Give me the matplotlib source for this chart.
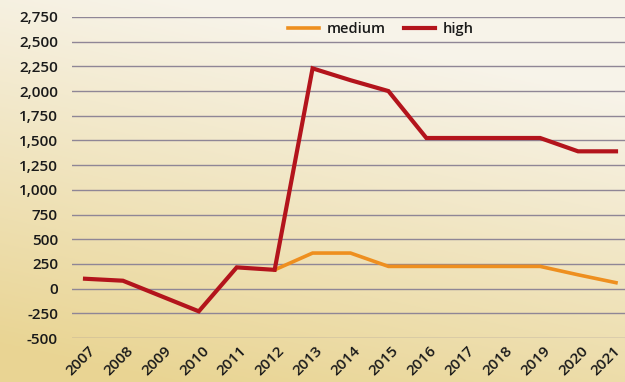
import matplotlib
matplotlib.use("Agg")
import matplotlib.pyplot as plt
import numpy as np
from matplotlib.lines import Line2D

years = [2007, 2008, 2009, 2010, 2011, 2012, 2013, 2014, 2015, 2016, 2017, 2018, 2019, 2020, 2021]
high = [100, 80, -75, -230, 215, 190, 2230, 2110, 2000, 1525, 1525, 1525, 1525, 1390, 1390]
medium_years = [2012, 2013, 2014, 2015, 2016, 2017, 2018, 2019, 2020, 2021]
medium = [190, 360, 360, 225, 225, 225, 225, 225, 140, 60]
yticks = [-500, -250, 0, 250, 500, 750, 1000, 1250, 1500, 1750, 2000, 2250, 2500, 2750]

plt.rcParams['font.family'] = ['Open Sans', 'DejaVu Sans']

fig = plt.figure(figsize=(6.25, 3.82), dpi=100)

# background gradient
bg = fig.add_axes([0, 0, 1, 1], zorder=-10)
bg.axis('off')
yy, xx = np.mgrid[0:1:200j, 0:1:300j]
t = np.clip((1 - xx) * 0.35 + (1 - yy) * 1.0 - 0.25, 0, 1.0)
light = np.array([0.970, 0.955, 0.915])
dark = np.array([0.915, 0.835, 0.580])
img = light[None, None, :] * (1 - t[..., None]) + dark[None, None, :] * t[..., None]
bg.imshow(img, origin='lower', aspect='auto', extent=[0, 1, 0, 1])
bg.set_xlim(0, 1); bg.set_ylim(0, 1)

W, H = 625, 382
left, right = 72 / W, 1.0
top, bottom = 1 - 17 / H, 1 - 338 / H
ax = fig.add_axes([left, bottom, right - left, top - bottom])
ax.patch.set_alpha(0)

ax.set_ylim(-500, 2750)
ax.set_xlim(2007 - 13 / 37.9, 2021 + 9 / 37.9)
ax.set_yticks(yticks)
ax.set_yticklabels([f"{v:,}" for v in yticks])
ax.yaxis.grid(True, color='#8f8696', linewidth=1.0)
ax.set_axisbelow(True)
for s in ax.spines.values():
    s.set_visible(False)
ax.tick_params(axis='y', length=0, pad=10, labelsize=11, labelcolor='#1a1a1a')
ax.tick_params(axis='x', length=0, pad=4, labelsize=11, labelcolor='#1a1a1a')
ax.set_xticks(years)
ax.set_xticklabels([str(y) for y in years], rotation=45, ha='right', va='top', rotation_mode='anchor')
for lab in ax.get_xticklabels() + ax.get_yticklabels():
    lab.set_fontweight('semibold')
xlabs = ax.get_xticklabels()
for i, lab in enumerate(xlabs):
    dx = 3 if i < len(xlabs) - 1 else -3
    lab.set_transform(lab.get_transform() + matplotlib.transforms.ScaledTranslation(dx/100, 0, fig.dpi_scale_trans))

orange = '#ee8f1f'
red = '#b3141c'
ax.plot(medium_years, medium, color=orange, linewidth=2.6, solid_joinstyle='miter', zorder=3, clip_on=False)
ax.plot(years, high, color=red, linewidth=3.0, solid_joinstyle='miter', zorder=4, clip_on=False)

handles = [Line2D([], [], color=orange, linewidth=2.6), Line2D([], [], color=red, linewidth=3.0)]
leg = fig.legend(handles, ['medium', 'high'], loc='center', bbox_to_anchor=(381 / W, 1 - 29 / H),
                 ncol=2, frameon=False, handlelength=2.1, handletextpad=0.55, columnspacing=1.3,
                 prop={'size': 10.5, 'weight': 'semibold'})
for txt in leg.get_texts():
    txt.set_color('#1a1a1a')

fig.savefig('out.png', dpi=100)
